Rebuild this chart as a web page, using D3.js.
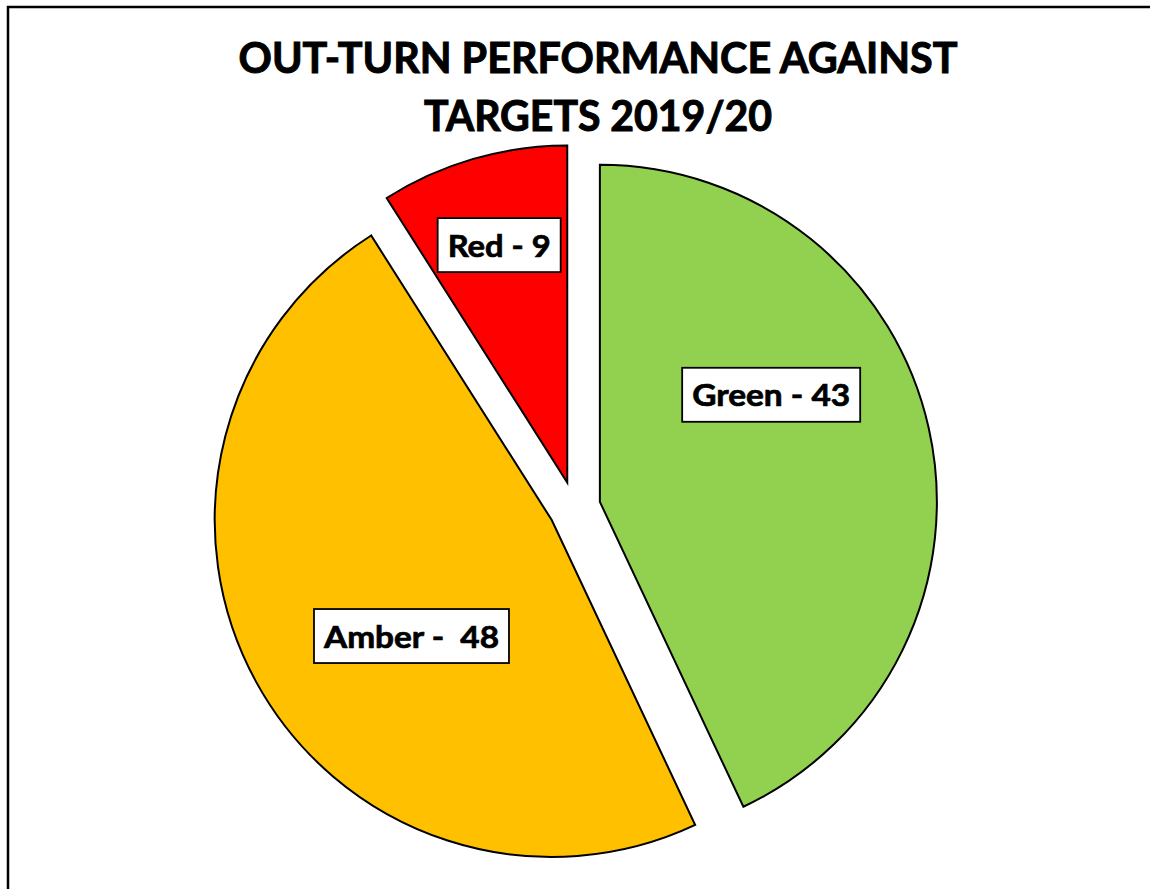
<!DOCTYPE html>
<html>
<head>
<meta charset="utf-8">
<script src="https://cdn.jsdelivr.net/npm/d3@7"></script>
<style>
  html, body { margin: 0; padding: 0; background: #fff; }
  svg { display: block; }
  text { font-family: Lato, "Open Sans", sans-serif; font-weight: 700; fill: #000; stroke: #000; stroke-width: 0.7px; }
</style>
</head>
<body>
<svg id="chart" width="1150" height="889"></svg>
<script>
// ---- data ----
const categories = ["Green", "Amber", "Red"];
const values = [43, 48, 9];
const labelTexts = ["Green - 43", "Amber -  48", "Red - 9"];
const colors = ["#92D050", "#FFC000", "#FF0000"];
const titleLines = ["OUT-TURN PERFORMANCE AGAINST", "TARGETS 2019/20"];

// ---- layout ----
const W = 1150, H = 889;
const cx = 574.5, cy = 507.5, R = 337, explode = 26;
// label anchor (angle in degrees clockwise from top, distance) relative to slice apex
const labelLayout = [
  { ang: 58, dist: 202, len: 158 },
  { ang: 230.4, dist: 182, len: 175 },
  { ang: 344, dist: 247, len: 103 }
];

const svg = d3.select("#chart");

// outer border (extends beyond the right/bottom edges)
svg.append("rect")
  .attr("x", 8).attr("y", 7)
  .attr("width", W + 20).attr("height", H + 20)
  .attr("fill", "none").attr("stroke", "#000").attr("stroke-width", 2.5);

// title
const titleG = svg.append("g");
const titleY = [73, 131];
const titleLen = [719, 348];
titleLines.forEach((t, i) => {
  titleG.append("text")
    .attr("x", 598).attr("y", titleY[i])
    .attr("text-anchor", "middle")
    .attr("font-size", 42)
    .style("stroke-width", "1px")
    .attr("textLength", titleLen[i])
    .attr("lengthAdjust", "spacingAndGlyphs")
    .text(t);
});

// pie
const data = categories.map((c, i) => ({ cat: c, value: values[i], label: labelTexts[i], color: colors[i], i }));
const pie = d3.pie().value(d => d.value).sort(null).startAngle(0).endAngle(2 * Math.PI);
const arcs = pie(data);
const arc = d3.arc().innerRadius(0).outerRadius(R);

const g = svg.append("g").attr("transform", `translate(${cx},${cy})`);

const slices = g.selectAll("g.slice").data(arcs).join("g")
  .attr("class", "slice")
  .attr("transform", d => {
    const mid = (d.startAngle + d.endAngle) / 2;
    return `translate(${explode * Math.sin(mid)},${-explode * Math.cos(mid)})`;
  });

slices.append("path")
  .attr("d", arc)
  .attr("fill", d => d.data.color)
  .attr("stroke", "#000")
  .attr("stroke-width", 2)
  .attr("stroke-linejoin", "miter");

// labels
const labels = slices.append("g")
  .attr("transform", d => {
    const L = labelLayout[d.data.i];
    const a = L.ang * Math.PI / 180;
    return `translate(${L.dist * Math.sin(a)},${-L.dist * Math.cos(a)})`;
  });

labels.append("rect")
  .attr("x", d => -(labelLayout[d.data.i].len + 20) / 2)
  .attr("y", -27)
  .attr("width", d => labelLayout[d.data.i].len + 20)
  .attr("height", 54)
  .attr("fill", "#fff")
  .attr("stroke", "#000")
  .attr("stroke-width", 1.8);

labels.append("text")
  .attr("x", 0).attr("y", 11.5)
  .attr("text-anchor", "middle")
  .attr("font-size", 31)
  .attr("textLength", d => labelLayout[d.data.i].len)
  .attr("lengthAdjust", "spacingAndGlyphs")
  .style("white-space", "pre")
  .text(d => d.data.label);
</script>
</body>
</html>
